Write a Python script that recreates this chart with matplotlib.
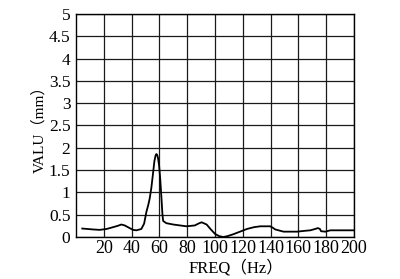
import numpy as np
import matplotlib.pyplot as plt

plt.rcParams['font.family'] = ['Liberation Serif', 'Noto Sans CJK JP']

freq = [4.5, 12, 17, 22, 26.6, 30, 32.6, 35, 38.6, 41, 43.5, 47, 49, 50.7, 52, 53, 54.2,
        55.5, 56.4, 57.2, 57.8, 58.4, 59, 59.8, 60.6, 61.5, 62.2, 62.7, 65, 70, 74.7,
        79.5, 85.6, 88, 90.4, 94, 97, 100, 103, 106, 109, 113, 118, 123, 128, 132.5,
        139.7, 141.5, 143.3, 149.3, 159, 165, 168.6, 172, 174, 175.5, 176.3, 179.4,
        183, 190, 200]
valu = [0.19, 0.17, 0.16, 0.18, 0.22, 0.25, 0.28, 0.26, 0.2, 0.16, 0.15, 0.18, 0.3, 0.57,
        0.72, 0.86, 1.1, 1.45, 1.7, 1.82, 1.86, 1.84, 1.77, 1.6, 1.3, 0.86, 0.5, 0.36,
        0.31, 0.28, 0.26, 0.24, 0.26, 0.3, 0.33, 0.28, 0.17, 0.07, 0.02, 0.0, 0.02,
        0.06, 0.12, 0.18, 0.22, 0.24, 0.24, 0.21, 0.17, 0.12, 0.12, 0.14, 0.15, 0.18,
        0.2, 0.18, 0.13, 0.12, 0.15, 0.15, 0.15]

xticks = list(range(20, 201, 20))
yticks = [0, 0.5, 1, 1.5, 2, 2.5, 3, 3.5, 4, 4.5, 5]
ylabels = ['0', '0.5', '1', '1.5', '2', '2.5', '3', '3.5', '4', '4.5', '5']

fig = plt.figure(figsize=(4, 2.79), dpi=100)
ax = fig.add_axes([0.19, 0.1505, 0.695, 0.7995])

ax.plot(freq, valu, color='black', lw=1.3)

ax.set_xlim(0, 200)
ax.set_ylim(0, 5)
ax.set_xticks(xticks)
ax.set_yticks(yticks)
ax.set_yticklabels(ylabels)
ax.grid(True, color='#1a1a1a', lw=0.9)
ax.tick_params(axis='x', length=0, labelsize=13, pad=2)
ax.tick_params(axis='y', length=0, labelsize=12.5, pad=4)
for s in ax.spines.values():
    s.set_color('black')
    s.set_linewidth(1.0)

ax.set_xlabel('FREQ（Hz）', fontsize=12)
ax.xaxis.set_label_coords(0.575, -0.1)
ax.set_ylabel('VALU（mm）', fontsize=11)
ax.yaxis.set_label_coords(-0.108, 0.5)

fig.savefig('out.png', dpi=100)
